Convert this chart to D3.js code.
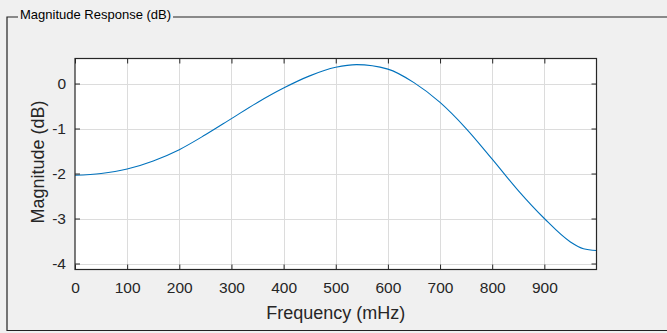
<!DOCTYPE html>
<html>
<head>
<meta charset="utf-8">
<script src="https://cdn.jsdelivr.net/npm/d3@7"></script>
<style>
  html, body { margin: 0; padding: 0; background: #f0f0f0; }
  svg { display: block; }
</style>
</head>
<body>
<script>
// Magnitude response samples (frequency in mHz, magnitude in dB)
const freq = [0, 50, 100, 150, 200, 250, 300, 350, 400, 450, 500, 540, 600, 650, 700, 750, 800, 850, 900, 950, 975, 1000];
const magnitude = [-2.04, -2.00, -1.90, -1.72, -1.47, -1.14, -0.78, -0.42, -0.10, 0.17, 0.36, 0.42, 0.32, 0.02, -0.42, -1.00, -1.68, -2.38, -3.00, -3.52, -3.67, -3.71];
const xTicks = [0, 100, 200, 300, 400, 500, 600, 700, 800, 900];
const yTicks = [0, -1, -2, -3, -4];
const panelTitle = "Magnitude Response (dB)";
const xLabel = "Frequency (mHz)";
const yLabel = "Magnitude (dB)";

const W = 667, H = 333;
const plot = { left: 75, right: 596.5, top: 58.5, bottom: 269.5 };

const svg = d3.select("body").append("svg").attr("width", W).attr("height", H);
svg.append("rect").attr("width", W).attr("height", H).attr("fill", "#f0f0f0");

// Group-box frame with its caption
const frame = svg.append("g").attr("stroke", "#222").attr("stroke-width", 1.2).attr("fill", "none");
const titleText = svg.append("text")
  .attr("x", 20).attr("y", 18.5)
  .attr("font-family", "Liberation Sans, Arial, sans-serif")
  .attr("font-size", 13)
  .attr("fill", "#000")
  .text(panelTitle);
const tw = titleText.node().getComputedTextLength();
frame.append("path").attr("d", `M${20 - 2},17 H7 V330.5 H${W + 5}`);
frame.append("path").attr("d", `M${20 + tw + 2},17 H${W + 5}`);

const x = d3.scaleLinear().domain([0, 1000]).range([plot.left, plot.right]);
const y = d3.scaleLinear().domain([-4.133, 0.556]).range([plot.bottom, plot.top]);

// Plot area
svg.append("rect")
  .attr("x", plot.left).attr("y", plot.top)
  .attr("width", plot.right - plot.left).attr("height", plot.bottom - plot.top)
  .attr("fill", "#fff");

// Grid
const grid = svg.append("g").attr("stroke", "#dcdcdc").attr("stroke-width", 1);
grid.selectAll(".gx").data(xTicks.filter(d => d > 0)).join("line")
  .attr("x1", d => Math.round(x(d)) + 0.5).attr("x2", d => Math.round(x(d)) + 0.5)
  .attr("y1", plot.top).attr("y2", plot.bottom);
grid.selectAll(".gy").data(yTicks).join("line")
  .attr("y1", d => Math.round(y(d)) + 0.5).attr("y2", d => Math.round(y(d)) + 0.5)
  .attr("x1", plot.left).attr("x2", plot.right);

// Response curve
const line = d3.line().x((d, i) => x(freq[i])).y(d => y(d)).curve(d3.curveMonotoneX);
svg.append("path")
  .datum(magnitude)
  .attr("d", line)
  .attr("fill", "none")
  .attr("stroke", "#0072bd")
  .attr("stroke-width", 1.1);

// Axes: ticks inward, on all four sides
const font = "Liberation Sans, Arial, Helvetica, sans-serif";
const tickLen = 5;
const axisColor = "#262626";
const fmt = d => String(d);

const xBottom = svg.append("g").attr("transform", `translate(0,${plot.bottom})`)
  .call(d3.axisBottom(x).tickValues(xTicks).tickSizeInner(-tickLen).tickSizeOuter(0).tickPadding(12).tickFormat(fmt));
const xTop = svg.append("g").attr("transform", `translate(0,${plot.top})`)
  .call(d3.axisTop(x).tickValues(xTicks).tickSizeInner(-tickLen).tickSizeOuter(0).tickFormat(""));
const yLeft = svg.append("g").attr("transform", `translate(${plot.left},0)`)
  .call(d3.axisLeft(y).tickValues(yTicks).tickSizeInner(-tickLen).tickSizeOuter(0).tickPadding(9).tickFormat(fmt));
const yRight = svg.append("g").attr("transform", `translate(${plot.right},0)`)
  .call(d3.axisRight(y).tickValues(yTicks).tickSizeInner(-tickLen).tickSizeOuter(0).tickFormat(""));

[xBottom, xTop, yLeft, yRight].forEach(g => {
  g.select(".domain").remove();
  g.selectAll("line").attr("stroke", axisColor);
  g.selectAll("text").attr("font-family", font).attr("font-size", 15.5).attr("fill", "#262626");
});

// Box outline
svg.append("rect")
  .attr("x", plot.left).attr("y", plot.top)
  .attr("width", plot.right - plot.left).attr("height", plot.bottom - plot.top)
  .attr("fill", "none").attr("stroke", axisColor).attr("stroke-width", 1.2);

// Axis labels
svg.append("text")
  .attr("x", (plot.left + plot.right) / 2).attr("y", 318.5)
  .attr("text-anchor", "middle")
  .attr("font-family", font).attr("font-size", 18).attr("fill", "#262626")
  .text(xLabel);
svg.append("text")
  .attr("transform", `translate(44,162) rotate(-90)`)
  .attr("text-anchor", "middle")
  .attr("font-family", font).attr("font-size", 18).attr("fill", "#262626")
  .text(yLabel);
</script>
</body>
</html>
